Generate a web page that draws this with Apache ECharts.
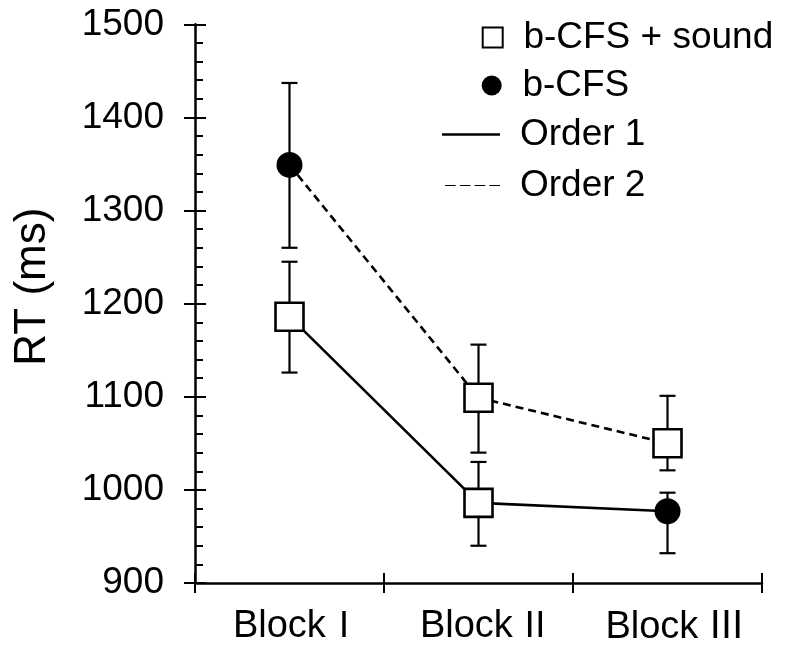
<!DOCTYPE html>
<html>
<head>
<meta charset="utf-8">
<script src="https://cdn.jsdelivr.net/npm/echarts@6/dist/echarts.min.js"></script>
<style>html,body{margin:0;padding:0;background:#fff}#c{width:790px;height:647px}</style>
</head>
<body>
<div id="c"></div>
<script>
const categories = ['Block Ⅰ', 'Block Ⅱ', 'Block Ⅲ'];
const yTicks = [900, 1000, 1100, 1200, 1300, 1400, 1500];
const order1 = [1186, 986, 977];
const order1Low = [1126, 940, 932];
const order1High = [1245, 1030, 997];
const order1Cond = ['b-CFS + sound', 'b-CFS + sound', 'b-CFS'];
const order2 = [1349, 1099, 1050];
const order2Low = [1260, 1040, 1021];
const order2High = [1437, 1156, 1101];
const order2Cond = ['b-CFS', 'b-CFS + sound', 'b-CFS + sound'];

const FONT = '"Liberation Sans", Arial, sans-serif';
const NUMFONT = '"Noto Sans CJK JP", "Liberation Sans", sans-serif';

function pts(cond) {
  const out = [];
  order1.forEach((v, i) => { if (order1Cond[i] === cond) out.push([i, v]); });
  order2.forEach((v, i) => { if (order2Cond[i] === cond) out.push([i, v]); });
  return out;
}
const errData = [];
order1.forEach((v, i) => errData.push([i, order1Low[i], order1High[i]]));
order2.forEach((v, i) => errData.push([i, order2Low[i], order2High[i]]));

const chart = echarts.init(document.getElementById('c'), null, {renderer: 'canvas'});
function legendText(pad) {
  return {fontFamily: FONT, fontSize: 37, lineHeight: 37, color: '#000', padding: pad};
}
const legendBase = {orient: 'vertical', padding: 0, itemGap: 0, selectedMode: false};
chart.setOption({
  animation: false,
  backgroundColor: '#fff',
  grid: {left: 195, right: 28, top: 24.3, bottom: 61.3, containLabel: false},
  legend: [
    Object.assign({}, legendBase, {left: 481.7, top: 15.3, itemWidth: 20, itemHeight: 20,
      data: [{name: 'b-CFS + sound', icon: 'rect', itemStyle: {color: '#fff', borderColor: '#000', borderWidth: 2}}],
      textStyle: legendText([0, 0, 7.4, 15.7])}),
    Object.assign({}, legendBase, {left: 481.7, top: 61, itemWidth: 20, itemHeight: 20,
      data: [{name: 'b-CFS', icon: 'circle'}],
      textStyle: legendText([0, 0, 12, 15.7])}),
    Object.assign({}, legendBase, {left: 442, top: 114, itemWidth: 58, itemHeight: 2.6,
      data: [{name: 'Order 1', icon: 'rect', itemStyle: {color: '#000', borderWidth: 0}}],
      textStyle: legendText([0, 0, 4, 15])}),
    Object.assign({}, legendBase, {left: 445, top: 165, itemWidth: 55, itemHeight: 2.6,
      data: [{name: 'Order 2', icon: 'path://M0,0h10v1h-10z M14,0h10v1h-10z M28,0h10v1h-10z M42,0h10v1h-10z', itemStyle: {color: '#000', borderWidth: 0}}],
      textStyle: legendText([0, 0, 4, 15])})
  ],
  xAxis: [
    {type: 'category', data: categories, position: 'bottom', boundaryGap: true,
     axisLine: {lineStyle: {color: '#000', width: 2.5}},
     axisTick: {show: true, length: 10, lineStyle: {color: '#000', width: 2}},
     axisLabel: {color: '#000', fontFamily: FONT, fontSize: 38, margin: 22, padding: [0, 0, 0, 16],
       interval: 0, hideOverlap: false,
       formatter: function (v, idx) { const p = v.split(' '); return p[0] + '{s| }{n' + idx + '|' + p[1] + '}'; },
       rich: {
         s: {fontSize: 1, color: '#000'},
         n0: {fontFamily: NUMFONT, fontSize: 36, color: '#000', padding: [0, 0, 8, 0]},
         n1: {fontFamily: NUMFONT, fontSize: 36, color: '#000', padding: [0, 0, 8, 4]},
         n2: {fontFamily: NUMFONT, fontSize: 38, color: '#000', padding: [0, 0, 8, 9]}
       }},
     splitLine: {show: false}},
    {type: 'category', data: categories, position: 'bottom', boundaryGap: true,
     axisLine: {show: false},
     axisTick: {show: true, inside: true, length: 10, lineStyle: {color: '#000', width: 2}},
     axisLabel: {show: false}, splitLine: {show: false}}
  ],
  yAxis: [
    {type: 'value', min: yTicks[0], max: yTicks[yTicks.length - 1], interval: 100, position: 'left', offset: 0,
     name: 'RT (ms)', nameLocation: 'middle', nameGap: 140, nameRotate: 90,
     nameTextStyle: {color: '#000', fontFamily: FONT, fontSize: 44, padding: [0, 0, 0, 34]},
     axisLine: {show: true, lineStyle: {color: '#000', width: 2.5}},
     axisTick: {show: true, length: 11, lineStyle: {color: '#000', width: 2}},
     axisLabel: {color: '#000', fontFamily: FONT, fontSize: 37, margin: 31, formatter: function (v) { return String(v); }},
     splitLine: {show: false}},
    {type: 'value', min: yTicks[0], max: yTicks[yTicks.length - 1], interval: 100, position: 'left', offset: 0,
     axisLine: {show: false},
     axisTick: {show: true, inside: true, length: 11, lineStyle: {color: '#000', width: 2}},
     minorTick: {show: true, splitNumber: 5, length: 8, lineStyle: {color: '#000', width: 2}},
     axisLabel: {show: false}, splitLine: {show: false}, minorSplitLine: {show: false}}
  ],
  series: [
    {name: 'Order 1', type: 'line', data: order1, symbol: 'none', z: 2,
     lineStyle: {color: '#000', width: 2.6, type: 'solid'}, itemStyle: {color: '#000'}},
    {name: 'Order 2', type: 'line', data: order2, symbol: 'none', z: 2,
     lineStyle: {color: '#000', width: 2.6, type: [8, 5]}, itemStyle: {color: '#000'}},
    {name: 'err', type: 'custom', z: 3, data: errData,
     renderItem: function (params, api) {
       const lo = api.coord([api.value(0), api.value(1)]);
       const hi = api.coord([api.value(0), api.value(2)]);
       const w = 8;
       const st = {stroke: '#000', lineWidth: 2.2, fill: null};
       return {type: 'group', children: [
         {type: 'line', shape: {x1: lo[0], y1: lo[1], x2: hi[0], y2: hi[1]}, style: st},
         {type: 'line', shape: {x1: lo[0] - w, y1: lo[1], x2: lo[0] + w, y2: lo[1]}, style: st},
         {type: 'line', shape: {x1: hi[0] - w, y1: hi[1], x2: hi[0] + w, y2: hi[1]}, style: st}
       ]};
     }},
    {name: 'b-CFS + sound', type: 'scatter', data: pts('b-CFS + sound'), symbol: 'rect', symbolSize: 28, z: 5,
     itemStyle: {color: '#fff', borderColor: '#000', borderWidth: 2.6, opacity: 1}},
    {name: 'b-CFS', type: 'scatter', data: pts('b-CFS'), symbol: 'circle', symbolSize: 26, z: 5,
     itemStyle: {color: '#000', opacity: 1}}
  ]
});
</script>
</body>
</html>
